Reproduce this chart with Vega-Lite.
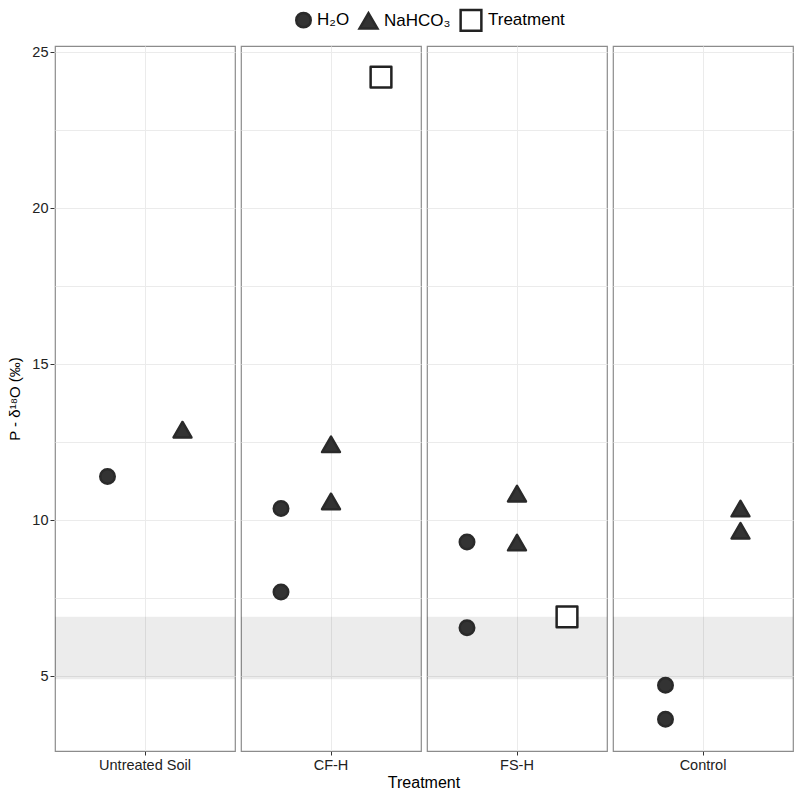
{
  "$schema": "https://vega.github.io/schema/vega-lite/v6.json",
  "padding": {"left": 7, "top": 8, "right": 2, "bottom": 0},
  "background": "white",
  "data": {
    "values": [
      {"Treatment": "Untreated Soil", "type": "H₂O", "value": 11.4},
      {"Treatment": "Untreated Soil", "type": "NaHCO₃", "value": 12.9},
      {"Treatment": "CF-H", "type": "H₂O", "value": 10.37},
      {"Treatment": "CF-H", "type": "H₂O", "value": 7.7},
      {"Treatment": "CF-H", "type": "NaHCO₃", "value": 12.43},
      {"Treatment": "CF-H", "type": "NaHCO₃", "value": 10.6},
      {"Treatment": "CF-H", "type": "Treatment", "value": 24.2},
      {"Treatment": "FS-H", "type": "H₂O", "value": 9.3},
      {"Treatment": "FS-H", "type": "H₂O", "value": 6.55},
      {"Treatment": "FS-H", "type": "NaHCO₃", "value": 10.85},
      {"Treatment": "FS-H", "type": "NaHCO₃", "value": 9.28},
      {"Treatment": "FS-H", "type": "Treatment", "value": 6.9},
      {"Treatment": "Control", "type": "H₂O", "value": 4.71},
      {"Treatment": "Control", "type": "H₂O", "value": 3.62},
      {"Treatment": "Control", "type": "NaHCO₃", "value": 10.37},
      {"Treatment": "Control", "type": "NaHCO₃", "value": 9.66}
    ]
  },
  "facet": {
    "column": {
      "field": "Treatment",
      "type": "nominal",
      "sort": ["Untreated Soil", "CF-H", "FS-H", "Control"],
      "header": {
        "labels": false,
        "title": "Treatment",
        "titleOrient": "bottom",
        "titleFontSize": 16,
        "titleFontWeight": "normal",
        "titleColor": "#000",
        "titlePadding": -8
      }
    }
  },
  "spacing": 4,
  "spec": {
    "width": 180,
    "height": 705,
    "layer": [
      {
        "transform": [
          {"aggregate": [{"op": "count", "as": "n"}], "groupby": ["Treatment"]}
        ],
        "mark": {"type": "rect", "color": "#000", "opacity": 0.075},
        "encoding": {
          "y": {"datum": 6.9, "type": "quantitative"},
          "y2": {"datum": 4.9}
        }
      },
      {
        "mark": {"type": "point", "filled": false, "opacity": 1, "strokeWidth": 2.5, "strokeJoin": "round"},
        "encoding": {
          "x": {
            "field": "Treatment",
            "type": "nominal",
            "scale": {"type": "band", "paddingInner": 0, "paddingOuter": 0.1},
            "axis": {
              "title": null,
              "grid": true,
              "labelAngle": 0,
              "labelFontSize": 14.5,
              "labelColor": "#222",
              "labelPadding": 3,
              "tickSize": 4
            }
          },
          "xOffset": {
            "field": "type",
            "type": "nominal",
            "scale": {"type": "band", "paddingInner": 0, "paddingOuter": 0}
          },
          "y": {
            "field": "value",
            "type": "quantitative",
            "scale": {"domain": [2.6, 25.2], "nice": false, "zero": false},
            "axis": {
              "title": "P - δ¹⁸O (‰)",
              "titleFontSize": 15,
              "titleFontWeight": "normal",
              "titleColor": "#000",
              "titlePadding": 9,
              "grid": true,
              "gridOpacity": 1,
              "values": [5, 7.5, 10, 12.5, 15, 17.5, 20, 22.5, 25],
              "labelExpr": "datum.value % 5 === 0 ? datum.label : ''",
              "labelFontSize": 14.5,
              "labelColor": "#222",
              "tickSize": 4,
              "tickOpacity": {"condition": {"test": "datum.value % 5 !== 0", "value": 0}, "value": 1}
            }
          },
          "shape": {
            "field": "type",
            "type": "nominal",
            "scale": {"domain": ["H₂O", "NaHCO₃", "Treatment"], "range": ["circle", "triangle-up", "square"]},
            "legend": {"title": null}
          },
          "fill": {
            "field": "type",
            "type": "nominal",
            "scale": {"domain": ["H₂O", "NaHCO₃", "Treatment"], "range": ["#333333", "#333333", "#ffffff"]},
            "legend": {"title": null}
          },
          "stroke": {
            "field": "type",
            "type": "nominal",
            "scale": {"domain": ["H₂O", "NaHCO₃", "Treatment"], "range": ["#2a2a2a", "#2a2a2a", "#222222"]},
            "legend": {"title": null}
          },
          "size": {
            "field": "type",
            "type": "nominal",
            "scale": {"domain": ["H₂O", "NaHCO₃", "Treatment"], "range": [210, 430, 200]},
            "legend": {"title": null}
          }
        }
      }
    ]
  },
  "resolve": {"scale": {"x": "independent", "xOffset": "independent"}},
  "config": {
    "font": "Liberation Sans",
    "view": {"stroke": "#8c8c8c", "strokeWidth": 1.2},
    "axis": {
      "domain": false,
      "grid": true,
      "gridColor": "#ebebeb",
      "gridWidth": 1,
      "tickColor": "#333",
      "labelFont": "Liberation Sans",
      "titleFont": "Liberation Sans"
    },
    "legend": {
      "orient": "none",
      "legendX": 240,
      "legendY": -38,
      "direction": "horizontal",
      "labelFontSize": 17,
      "labelColor": "#000",
      "symbolStrokeWidth": 2.5,
      "columnPadding": 4,
      "labelOffset": 5,
      "padding": 0
    }
  }
}
